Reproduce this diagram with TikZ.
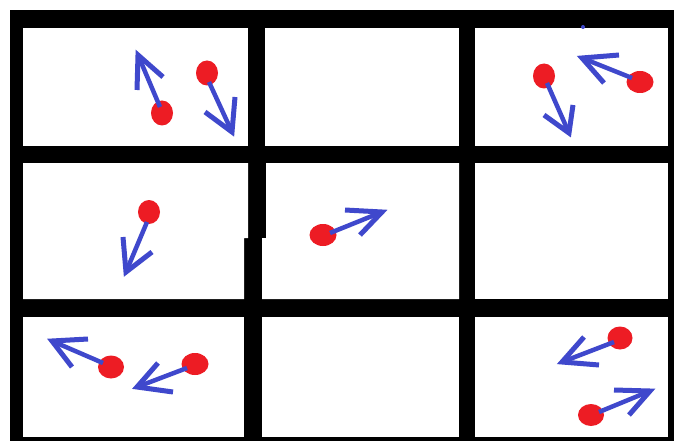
\documentclass[tikz,border=0pt]{standalone}
\usetikzlibrary{shapes.geometric}
\definecolor{dotred}{RGB}{237,28,36}
\definecolor{velblue}{RGB}{63,72,204}
\tikzset{
  frame/.style={fill=black},
  cell/.style={fill=white},
  particle/.style={shape=ellipse,fill=dotred,draw=none,inner sep=0pt},
  shaft/.style={draw=velblue,line width=4.5pt,line cap=butt},
  head/.style={draw=velblue,line width=5pt,line cap=butt,line join=miter,miter limit=10},
}
\begin{document}
\begin{tikzpicture}[x=1pt,y=-1pt]
\useasboundingbox (0,0) rectangle (677,441);
\fill[white] (0,0) rectangle (677,441);
% grid frame
\fill[frame] (10,10) rectangle (674,441);
% row 1
\fill[cell] (23,28) rectangle (248,146);
\fill[cell] (265,28) rectangle (459,146);
\fill[cell] (475,28) rectangle (668,146);
% row 2 (the left divider steps slightly left below y=238)
\fill[cell] (23,163) -- (248,163) -- (248,238) -- (244,238) -- (244,299) -- (23,299) -- cycle;
\fill[cell] (266,163) -- (459,163) -- (459,299) -- (262,299) -- (262,238) -- (266,238) -- cycle;
\fill[cell] (475,163) rectangle (668,299);
% row 3
\fill[cell] (23,317) rectangle (244,437);
\fill[cell] (262,317) rectangle (459,437);
\fill[cell] (475,317) rectangle (668,437);
\fill[velblue] (583,27) circle (2);

% particles
\node[particle,minimum width=22pt,minimum height=25pt] (a) at (162,113) {};
\node[particle,minimum width=22pt,minimum height=25pt] (b) at (207,73) {};
\node[particle,minimum width=22pt,minimum height=25pt] (c) at (544,76) {};
\node[particle,minimum width=27pt,minimum height=22pt] (d) at (640,82) {};
\node[particle,minimum width=22pt,minimum height=24pt] (e) at (149,212) {};
\node[particle,minimum width=27pt,minimum height=22pt] (f) at (323,235) {};
\node[particle,minimum width=26pt,minimum height=23pt] (g) at (111,367) {};
\node[particle,minimum width=27pt,minimum height=22pt] (h) at (195,364) {};
\node[particle,minimum width=25pt,minimum height=23pt] (i) at (620,338) {};
\node[particle,minimum width=26pt,minimum height=22pt] (j) at (591,415) {};

% arrow tips
\coordinate (a-tip) at (138,55);
\coordinate (b-tip) at (232,132);
\coordinate (c-tip) at (569,133);
\coordinate (d-tip) at (582,58);
\coordinate (e-tip) at (126,272);
\coordinate (f-tip) at (382,212);
\coordinate (g-tip) at (52,341);
\coordinate (h-tip) at (137,387);
\coordinate (i-tip) at (562,362);
\coordinate (j-tip) at (650,391);

% velocity shafts
\draw[shaft] ([shift={(-2,-6)}]a.center) -- (a-tip);
\draw[shaft] ([shift={(2,9)}]b.center) -- (b-tip);
\draw[shaft] ([shift={(3,7)}]c.center) -- (c-tip);
\draw[shaft] ([shift={(-8,-4)}]d.center) -- (d-tip);
\draw[shaft] ([shift={(-2,10)}]e.center) -- (e-tip);
\draw[shaft] ([shift={(7,-2)}]f.center) -- (f-tip);
\draw[shaft] ([shift={(-8,-4)}]g.center) -- (g-tip);
\draw[shaft] ([shift={(-8,4)}]h.center) -- (h-tip);
\draw[shaft] ([shift={(-6,4)}]i.center) -- (i-tip);
\draw[shaft] ([shift={(8,-3)}]j.center) -- (j-tip);

% arrow heads
\draw[head] (137,90) -- (a-tip) -- (163,77);
\draw[head] (235,97) -- (b-tip) -- (205,112);
\draw[head] (573,105) -- (c-tip) -- (544,115);
\draw[head] (619,55) -- (d-tip) -- (604,83);
\draw[head] (123,237) -- (e-tip) -- (152,252);
\draw[head] (345,210) -- (f-tip) -- (360,235);
\draw[head] (88,339) -- (g-tip) -- (72,367);
\draw[head] (158,363) -- (h-tip) -- (173,392);
\draw[head] (584,337) -- (i-tip) -- (599,365);
\draw[head] (614,390) -- (j-tip) -- (629,415);
\end{tikzpicture}
\end{document}
